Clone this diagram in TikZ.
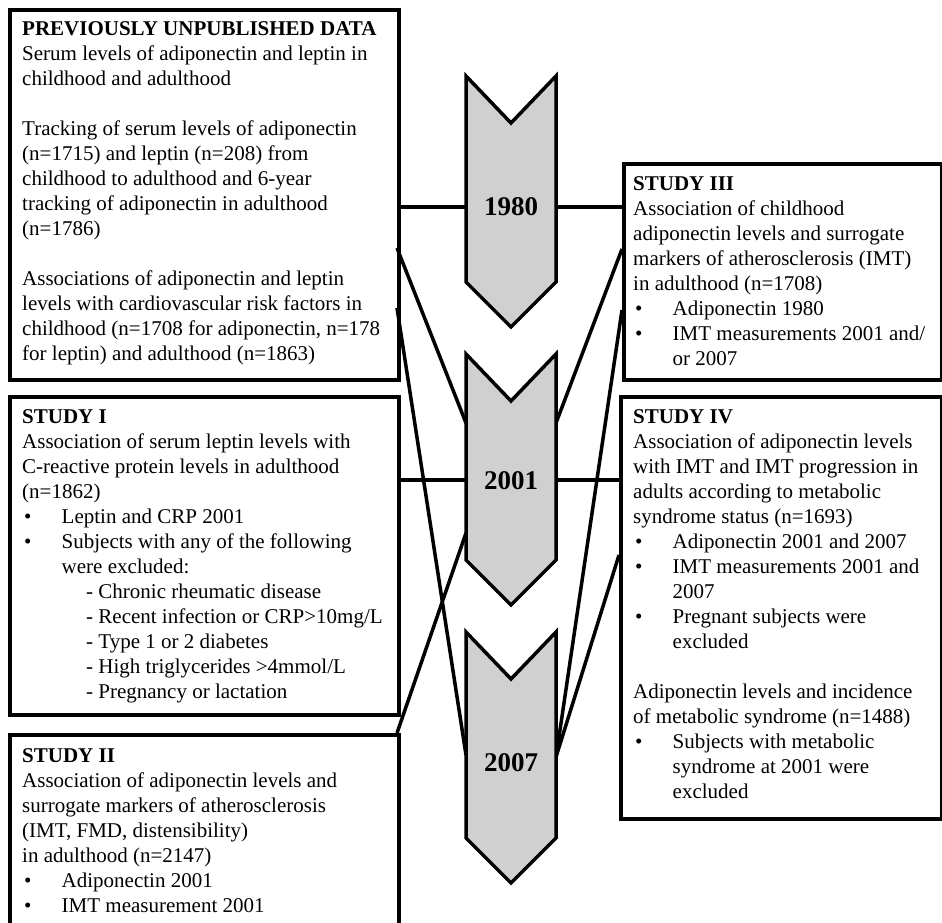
\documentclass[tikz,border=0pt]{standalone}
\usepackage{fontspec}
\setmainfont{Liberation Serif}
\definecolor{chevgray}{RGB}{208,208,208}
\newcommand\bul{\makebox[39.5pt][l]{\hspace{2pt}\textbullet}}
\newcommand\ind{\hspace*{39.5pt}}
\newcommand\subi{\hspace*{64pt}- }
\begin{document}
\begin{tikzpicture}[x=1pt,y=-1pt,
  box/.style={draw, line width=4pt, inner sep=0pt, anchor=north west},
  txt/.style={anchor=north west, inner sep=0pt, align=left, font=\fontsize{21}{25}\selectfont},
  chev/.style={draw, line width=3.5pt, fill=chevgray, line join=miter},
  conn/.style={line width=3.5pt},
  yr/.style={font=\fontsize{27}{30}\selectfont\bfseries, inner sep=0pt}]
\useasboundingbox (0,0) rectangle (942,922);

% boxes
\node[box, minimum width=389pt, minimum height=370pt] (b0) at (8,8) {};
\node[box, minimum width=389pt, minimum height=318pt] (b1) at (8,395) {};
\node[box, minimum width=389pt, minimum height=260pt] (b2) at (8,733) {};
\node[box, minimum width=318pt, minimum height=216pt] (b3) at (622,162) {};
\node[box, minimum width=321pt, minimum height=422pt] (b4) at (619,395) {};

% connection points
\coordinate (b0a) at (397,207);
\coordinate (b0b) at (397,248);
\coordinate (b0c) at (397,308);
\coordinate (b1a) at (397,480);
\coordinate (b2a) at (397,733);
\coordinate (b3a) at (622,207);
\coordinate (b3b) at (622,249);
\coordinate (b3c) at (622,310);
\coordinate (b4a) at (619,480);
\coordinate (b4b) at (619,555);
\coordinate (c1l) at (466,207);
\coordinate (c1r) at (556,207);
\coordinate (c2la) at (466,423);
\coordinate (c2lb) at (466,480);
\coordinate (c2lc) at (466,533);
\coordinate (c2ra) at (556,423);
\coordinate (c2rb) at (556,480);
\coordinate (c3l) at (466,755);
\coordinate (c3r) at (556,757);

% connectors
\draw[conn] (b0a) -- (c1l);
\draw[conn] (b0b) -- (c2la);
\draw[conn] (b0c) -- (c3l);
\draw[conn] (b1a) -- (c2lb);
\draw[conn] (b2a) -- (c2lc);
\draw[conn] (c1r) -- (b3a);
\draw[conn] (c2ra) -- (b3b);
\draw[conn] (c3r) -- (b3c);
\draw[conn] (c2rb) -- (b4a);
\draw[conn] (c3r) -- (b4b);

% chevrons
\draw[chev] (466,76) -- (511,123) -- (556,76) -- (556,282) -- (511,327) -- (466,282) -- cycle;
\draw[chev] (466,354) -- (511,401) -- (556,354) -- (556,560) -- (511,605) -- (466,560) -- cycle;
\draw[chev] (466,632) -- (511,679) -- (556,632) -- (556,838) -- (511,883) -- (466,838) -- cycle;
\node[yr] (c1) at (511,207) {1980};
\node[yr] (c2) at (511,481) {2001};
\node[yr] (c3) at (511,763) {2007};

% texts
\node[txt] (t0) at (22,18) {\rule{0pt}{17pt}\textbf{PREVIOUSLY UNPUBLISHED DATA}\\
Serum levels of adiponectin and leptin in\\
childhood and adulthood\\[25pt]
Tracking of serum levels of adiponectin\\
(n=1715) and leptin (n=208) from\\
childhood to adulthood and 6-year\\
tracking of adiponectin in adulthood\\
(n=1786)\\[25pt]
Associations of adiponectin and leptin\\
levels with cardiovascular risk factors in\\
childhood (n=1708 for adiponectin, n=178\\
for leptin) and adulthood (n=1863)};

\node[txt] (t1) at (22,406) {\rule{0pt}{17pt}\textbf{STUDY I}\\
Association of serum leptin levels with\\
C-reactive protein levels in adulthood\\
(n=1862)\\
\bul Leptin and CRP 2001\\
\bul Subjects with any of the following\\
\ind were excluded:\\
\subi Chronic rheumatic disease\\
\subi Recent infection or CRP>10mg/L\\
\subi Type 1 or 2 diabetes\\
\subi High triglycerides >4mmol/L\\
\subi Pregnancy or lactation};

\node[txt] (t2) at (22,745) {\rule{0pt}{17pt}\textbf{STUDY II}\\
Association of adiponectin levels and\\
surrogate markers of atherosclerosis\\
(IMT, FMD, distensibility)\\
in adulthood (n=2147)\\
\bul Adiponectin 2001\\
\bul IMT measurement 2001};

\node[txt] (t3) at (633,173) {\rule{0pt}{17pt}\textbf{STUDY III}\\
Association of childhood\\
adiponectin levels and surrogate\\
markers of atherosclerosis (IMT)\\
in adulthood (n=1708)\\
\bul Adiponectin 1980\\
\bul IMT measurements 2001 and/\\
\ind or 2007};

\node[txt] (t4) at (633,406) {\rule{0pt}{17pt}\textbf{STUDY IV}\\
Association of adiponectin levels\\
with IMT and IMT progression in\\
adults according to metabolic\\
syndrome status (n=1693)\\
\bul Adiponectin 2001 and 2007\\
\bul IMT measurements 2001 and\\
\ind 2007\\
\bul Pregnant subjects were\\
\ind excluded\\[25pt]
Adiponectin levels and incidence\\
of metabolic syndrome (n=1488)\\
\bul Subjects with metabolic\\
\ind syndrome at 2001 were\\
\ind excluded};
\end{tikzpicture}
\end{document}
